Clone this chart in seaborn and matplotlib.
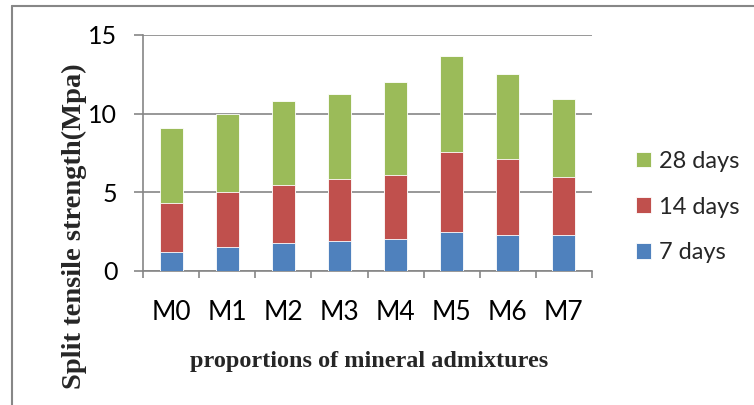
import matplotlib
matplotlib.use("Agg")
import matplotlib.pyplot as plt
import seaborn as sns
import numpy as np
import pandas as pd
from matplotlib.lines import Line2D

categories = ["M0", "M1", "M2", "M3", "M4", "M5", "M6", "M7"]
days7 = [1.19, 1.50, 1.76, 1.89, 2.01, 2.48, 2.31, 2.27]
days14 = [3.15, 3.50, 3.73, 3.96, 4.11, 5.08, 4.79, 3.70]
days28 = [4.73, 4.98, 5.29, 5.42, 5.89, 6.13, 5.40, 4.96]
series_names = ["7 days", "14 days", "28 days"]
yticks = [0, 5, 10, 15]

colors = {"7 days": "#4F81BD", "14 days": "#C0504D", "28 days": "#9BBB59"}

sns.set_theme(style="white")
plt.rcParams["font.family"] = ["Lato", "DejaVu Sans"]

c1 = np.array(days7)
c2 = c1 + np.array(days14)
c3 = c2 + np.array(days28)
df = pd.DataFrame({"cat": categories, "7 days": c1, "14 days": c2, "28 days": c3})

fig = plt.figure(figsize=(7.54, 4.05), dpi=100)
ax = fig.add_axes([143/754, 1-271/405, (592-143)/754, (271-35)/405])

for name in ["28 days", "14 days", "7 days"]:
    sns.barplot(data=df, x="cat", y=name, color=colors[name], width=0.41,
                edgecolor="white", linewidth=0.6, saturation=1, ax=ax,
                label=name, zorder=3)

ax.set_ylim(0, 15)
ax.set_xlim(-0.5, 7.5)
ax.set_yticks(yticks)
ax.yaxis.grid(True, color="#868686", linewidth=1.2, zorder=0)
ax.set_axisbelow(True)
for s in ["top", "right"]:
    ax.spines[s].set_visible(False)
for s in ["left", "bottom"]:
    ax.spines[s].set_color("#868686")
    ax.spines[s].set_linewidth(1.2)
ax.set_xlabel("")
ax.set_ylabel("")
ax.tick_params(axis="y", which="major", length=6.5, width=1.2, color="#868686",
               labelsize=18, pad=12, left=True, labelcolor="black")
ax.tick_params(axis="x", which="major", length=0, labelsize=19, pad=21, labelcolor="black")
ax.set_xticks(np.arange(-0.5, 8.0, 1.0), minor=True)
ax.tick_params(axis="x", which="minor", length=5, width=1.2, color="#868686", bottom=True)

fig.text(369/754, 1-362/405, "proportions of mineral admixtures", ha="center", va="center",
         family="Liberation Serif", weight="bold", fontsize=17.5)
fig.text(74/754, 1-226/405, "Split tensile strength(Mpa)", ha="center", va="center",
         rotation=90, family="Liberation Serif", weight="bold", fontsize=20.5)

handles, labels = ax.get_legend_handles_labels()
leg = fig.legend(handles, labels, loc="center left", bbox_to_anchor=(636/754, 1-207/405),
                 frameon=False, fontsize=17, handlelength=0.64, handleheight=0.64,
                 handletextpad=0.35, labelspacing=1.05, borderpad=0, borderaxespad=0)
if ax.get_legend() is not None:
    ax.get_legend().remove()

fig.add_artist(Line2D([12/754, 1], [1-6/405, 1-6/405], transform=fig.transFigure,
                      color="#878787", linewidth=1.5))
fig.add_artist(Line2D([12/754, 12/754], [0, 1-6/405], transform=fig.transFigure,
                      color="#878787", linewidth=1.5))

fig.savefig("out.png", dpi=100)
